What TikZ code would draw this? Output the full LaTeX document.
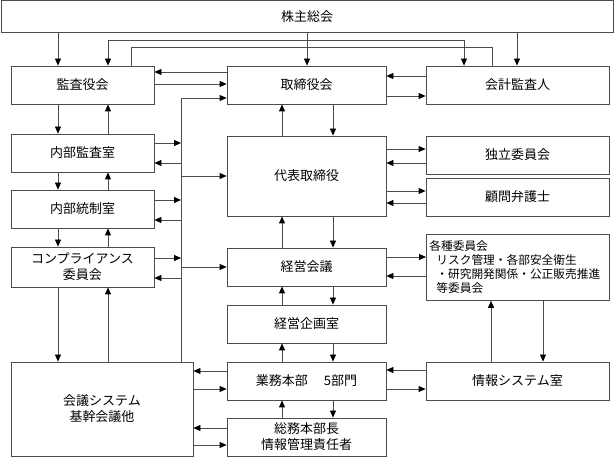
\documentclass[tikz,border=0pt]{standalone}
\usepackage{fontspec}
\setmainfont{Noto Sans CJK JP}
\usetikzlibrary{arrows.meta}

\begin{document}
\begin{tikzpicture}[x = 1pt, y = -1pt,
        box/.style = {draw = black!70, line width = .8pt, inner sep = 0pt, align = center, font = \fontsize{13}{16}\selectfont},
        arr/.style = {draw = black!70, line width = .8pt, -{Triangle[length = 7pt, width = 6pt, color = black]}},
        arrboth/.style = {draw = black!70, line width = .8pt, {Triangle[length = 7pt, width = 6pt, color = black]}-{Triangle[length = 7pt, width = 6pt, color = black]}},
        line/.style = {draw = black!70, line width = .8pt}]
        \useasboundingbox (0, 0) rectangle (614, 457);
        % boxes
        \node[box, minimum width = 612, minimum height = 32] (kabu) at (307, 16.5) {株主総会};
        \node[box, minimum width = 143, minimum height = 38] (kansa) at (82.5, 85) {監査役会};
        \node[box, minimum width = 159, minimum height = 38] (torishimari) at (306.5, 85) {取締役会};
        \node[box, minimum width = 183, minimum height = 38] (kaikei) at (517.5, 85) {会計監査人};
        \node[box, minimum width = 143, minimum height = 38] (naibu) at (82.5, 153) {内部監査室};
        \node[box, minimum width = 143, minimum height = 38] (tousei) at (82.5, 209) {内部統制室};
        \node[box, minimum width = 143, minimum height = 40] (comp) at (82.5, 267) {コンプライアンス\\委員会};
        \node[box, minimum width = 182, minimum height = 94] (kaigi) at (102, 409) {会議システム\\基幹会議他};
        \node[box, minimum width = 159, minimum height = 80] (daihyo) at (306.5, 176) {代表取締役};
        \node[box, minimum width = 159, minimum height = 38] (keiei) at (306.5, 267) {経営会議};
        \node[box, minimum width = 159, minimum height = 38] (kikaku) at (306.5, 324) {経営企画室};
        \node[box, minimum width = 159, minimum height = 38] (gyomu) at (306.5, 381) {業務本部　 5部門};
        \node[box, minimum width = 159, minimum height = 38] (somu) at (306.5, 437) {総務本部長\\情報管理責任者};
        \node[box, minimum width = 183, minimum height = 38] (dokuritsu) at (517.5, 155) {独立委員会};
        \node[box, minimum width = 183, minimum height = 38] (komon) at (517.5, 197) {顧問弁護士};
        \node[box, minimum width = 183, minimum height = 38] (joho) at (517.5, 381) {情報システム室};
        \node[box, anchor = north west, align = left, inner xsep = 3pt, text width = 177, minimum height = 66,
              font = \fontsize{11.7}{14}\selectfont] (kakushu) at (426, 234)
              {各種委員会\\\hspace*{.6em}リスク管理・各部安全衛生\\\hspace*{.6em}・研究開発関係・公正販売推進\\\hspace*{.6em}等委員会};
        % from the shareholders
        \draw[arr] (kabu.south -| 58,0) -- (kansa.north -| 58,0);
        \draw[arr] (kabu.south -| 307,0) -- (torishimari.north -| 307,0);
        \draw[arr] (kabu.south -| 517,0) -- (kaikei.north -| 517,0);
        \draw[arrboth] (kansa.north -| 108,0) -- ++(0, -25) -| (kaikei.north -| 464,0);
        \draw[line] (kansa.north -| 131,0) -- ++(0, -18) -| (kaikei.north -| 492,0);
        % left column
        \foreach \a/\b in {kansa/naibu, naibu/tousei, tousei/comp, comp/kaigi}
        {
        \draw[arr] (\a.south -| 58,0) -- (\b.north -| 58,0);
        \draw[arr] (\b.north -| 108,0) -- (\a.south -| 108,0);
        }
        % middle column
        \foreach \a/\b in {torishimari/daihyo, daihyo/keiei, keiei/kikaku, kikaku/gyomu, gyomu/somu}
        {
        \draw[arr] (\a.south -| 333,0) -- (\b.north -| 333,0);
        \draw[arr] (\b.north -| 282,0) -- (\a.south -| 282,0);
        }
        \draw[arr] (torishimari.west |- 0,72) -- (kansa.east |- 0,72);
        \draw[arr] (kansa.east |- 0,84) -- (torishimari.west |- 0,84);
        \draw[arr] (kaikei.west |- 0,76) -- (torishimari.east |- 0,76);
        \draw[arr] (torishimari.east |- 0,96) -- (kaikei.west |- 0,96);
        % bus line
        \coordinate (bus) at (181, 98);
        \draw[arr] (kaigi.north -| bus) -- (bus) -- (torishimari.west |- bus);
        \draw[arr] (naibu.east |- 0,143) -- (bus |- 0,143);
        \draw[arr] (bus |- 0,163) -- (naibu.east |- 0,163);
        \draw[arr] (bus |- 0,176) -- (daihyo.west |- 0,176);
        \draw[arr] (tousei.east |- 0,200) -- (bus |- 0,200);
        \draw[arr] (bus |- 0,220) -- (tousei.east |- 0,220);
        \draw[arr] (comp.east |- 0,258) -- (bus |- 0,258);
        \draw[arr] (bus |- 0,278) -- (comp.east |- 0,278);
        \draw[arr] (bus |- 0,267) -- (keiei.west |- 0,267);
        % right column
        \draw[arr] (daihyo.east |- 0,149) -- (dokuritsu.west |- 0,149);
        \draw[arr] (dokuritsu.west |- 0,163) -- (daihyo.east |- 0,163);
        \draw[arr] (daihyo.east |- 0,191) -- (komon.west |- 0,191);
        \draw[arr] (komon.west |- 0,203) -- (daihyo.east |- 0,203);
        \draw[arr] (keiei.east |- 0,257) -- (kakushu.west |- 0,257);
        \draw[arr] (kakushu.west |- 0,276) -- (keiei.east |- 0,276);
        \draw[arr] (joho.north -| 491,0) -- (kakushu.south -| 491,0);
        \draw[arr] (kakushu.south -| 543,0) -- (joho.north -| 543,0);
        \draw[arr] (joho.west |- 0,370) -- (gyomu.east |- 0,370);
        \draw[arr] (gyomu.east |- 0,389) -- (joho.west |- 0,389);
        % bottom left
        \draw[arr] (gyomu.west |- 0,371) -- (kaigi.east |- 0,371);
        \draw[arr] (kaigi.east |- 0,389) -- (gyomu.west |- 0,389);
        \draw[arr] (somu.west |- 0,428) -- (kaigi.east |- 0,428);
        \draw[arr] (kaigi.east |- 0,445) -- (somu.west |- 0,445);
\end{tikzpicture}
\end{document}
